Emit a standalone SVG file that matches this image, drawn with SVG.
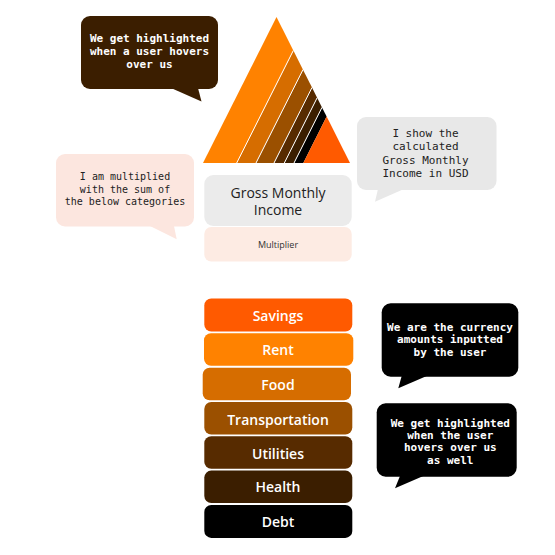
<svg xmlns="http://www.w3.org/2000/svg" width="555" height="555" viewBox="0 0 555 555">
<style>
.mono{font-family:"DejaVu Sans Mono","Liberation Mono",monospace;text-anchor:middle}
.bw{font-size:11px;font-weight:bold;fill:#fff}
.rg{font-size:11px;fill:#222}
.sans{font-family:"Open Sans","Noto Sans",sans-serif;text-anchor:middle}
.bar text{font-size:14px;font-weight:600;fill:#fff}
.sep{stroke:#fff;stroke-width:1;fill:none}
</style>
<rect width="555" height="555" fill="#fff"/>
<g id="pyramid">
<polygon points="203,163 236.7,163 293.35,50.47 276.5,17" fill="#FF8200"/>
<polygon points="236.7,163 256,163 303,69.64 293.35,50.47" fill="#D66D00"/>
<polygon points="256,163 274,163 312,87.52 303,69.64" fill="#9B5000"/>
<polygon points="274,163 284.3,163 317.15,97.75 312,87.52" fill="#572B00"/>
<polygon points="284.3,163 294,163 322,107.38 317.15,97.75" fill="#3B1E00"/>
<polygon points="294,163 303.3,163 326.65,116.62 322,107.38" fill="#000"/>
<polygon points="303.3,163 350,163 326.65,116.62" fill="#FF5A00"/>
<path class="sep" d="M236.7,163L293.35,50.47M256,163L303,69.64M274,163L312,87.52M284.3,163L317.15,97.75M294,163L322,107.38"/>
</g>
<g id="bubble-top">
<rect x="81" y="16" width="137" height="73" rx="9" fill="#3B1E00"/>
<polygon points="171,88 198,88 201.5,101.5" fill="#3B1E00"/>
<text class="mono bw" x="149.5" y="42">We get highlighted</text>
<text class="mono bw" x="149.5" y="55">when a user hovers</text>
<text class="mono bw" x="149.5" y="68">over us</text>
</g>
<g id="bubble-gross">
<rect x="357" y="117" width="139.5" height="73" rx="9" fill="#E8E8E8"/>
<polygon points="378,189 404,189 375,201.7" fill="#E8E8E8"/>
<text class="mono rg" x="425.5" y="137">I show the</text>
<text class="mono rg" x="425.5" y="150">calculated</text>
<text class="mono rg" x="425.5" y="163.5">Gross Monthly</text>
<text class="mono rg" x="425.5" y="177">Income in USD</text>
</g>
<g id="bubble-multiplier">
<rect x="56" y="154" width="138" height="72.5" rx="9" fill="#FCE6DF"/>
<polygon points="150,226 174,226 176.7,239.3" fill="#FCE6DF"/>
<text class="mono" font-size="10" fill="#222" x="125" y="180">I am multiplied</text>
<text class="mono" font-size="10" fill="#222" x="125" y="193">with the sum of</text>
<text class="mono" font-size="10" fill="#222" x="125" y="205">the below categories</text>
</g>
<g id="gross-income">
<rect x="204.3" y="175" width="147.4" height="51" rx="9" fill="#EBEBEB"/>
<text class="sans" font-size="14" fill="#222"><tspan x="278" y="198">Gross Monthly</tspan><tspan x="278" y="215">Income</tspan></text>
</g>
<g id="multiplier">
<rect x="204.3" y="227" width="147.4" height="34.5" rx="7" fill="#FDEBE3"/>
<text class="sans" font-size="9" fill="#333" x="278" y="248">Multiplier</text>
</g>
<g class="bar" id="savings">
<rect x="204.3" y="298.5" width="148" height="33" rx="7" fill="#FF5A00"/>
<text class="sans" x="278" y="321">Savings</text>
</g>
<g class="bar" id="rent">
<rect x="204" y="333.3" width="149.3" height="32.5" rx="7" fill="#FF8200"/>
<text class="sans" x="278" y="355">Rent</text>
</g>
<g class="bar" id="food">
<rect x="202.7" y="367.7" width="148.3" height="32.5" rx="7" fill="#D66D00"/>
<text class="sans" x="278" y="390">Food</text>
</g>
<g class="bar" id="transportation">
<rect x="204.3" y="402" width="148" height="32.5" rx="7" fill="#9B5000"/>
<text class="sans" x="278" y="424.5">Transportation</text>
</g>
<g class="bar" id="utilities">
<rect x="204.3" y="436.3" width="148" height="32.5" rx="7" fill="#572B00"/>
<text class="sans" x="278" y="459">Utilities</text>
</g>
<g class="bar" id="health">
<rect x="204.3" y="470.6" width="148" height="32.5" rx="7" fill="#3B1E00"/>
<text class="sans" x="278" y="492">Health</text>
</g>
<g class="bar" id="debt">
<rect x="204.3" y="504.9" width="148" height="33" rx="7" fill="#000"/>
<text class="sans" x="278" y="526.5">Debt</text>
</g>
<g id="bubble-currency">
<rect x="381.7" y="303.3" width="136.6" height="73.4" rx="9" fill="#000"/>
<polygon points="401.7,376 426.7,376 398.3,388.3" fill="#000"/>
<text class="mono bw" x="450" y="330.5">We are the currency</text>
<text class="mono bw" x="450" y="343">amounts inputted</text>
<text class="mono bw" x="450" y="355.5">by the user</text>
</g>
<g id="bubble-hover">
<rect x="376.7" y="403.3" width="140" height="73.4" rx="9" fill="#000"/>
<polygon points="400,476 423.3,476 395,488.3" fill="#000"/>
<text class="mono bw" x="450.3" y="426.5">We get highlighted</text>
<text class="mono bw" x="450.3" y="438.5">when the user</text>
<text class="mono bw" x="450.3" y="451">hovers over us</text>
<text class="mono bw" x="450.3" y="464">as well</text>
</g>
<g id="connectors"></g>
</svg>
